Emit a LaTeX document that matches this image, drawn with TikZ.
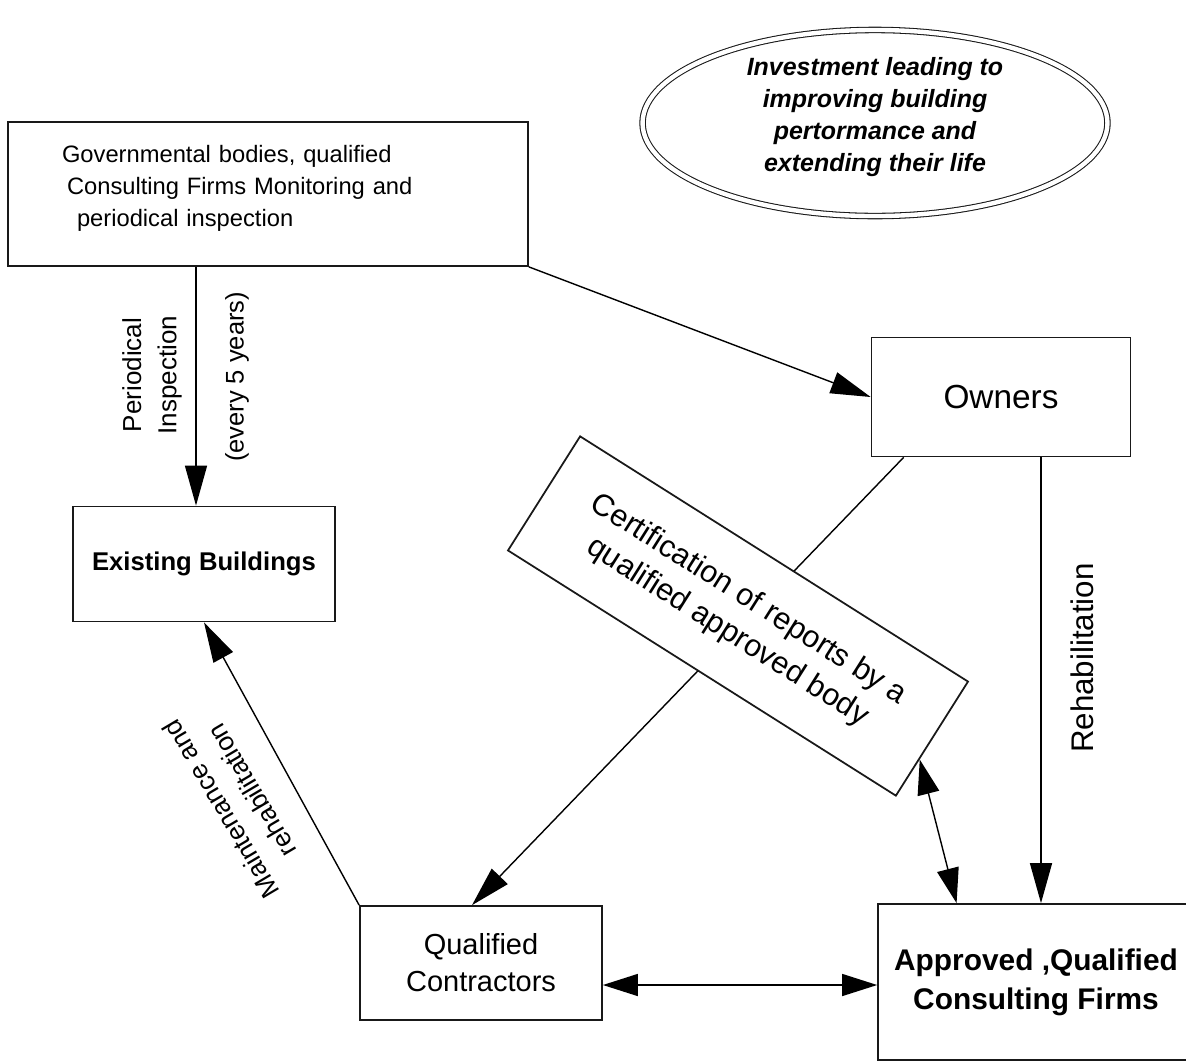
\documentclass[tikz,border=0pt]{standalone}
\usepackage{fontspec}
\setmainfont{Liberation Sans}
\usetikzlibrary{positioning, arrows.meta, shapes.geometric, calc, backgrounds}

\begin{document}
\begin{tikzpicture}[x=0.02cm, y=-0.02cm]
\tikzstyle{box}=[rectangle, draw=black!90, line width=1pt, fill=white, inner sep=0pt, align=center]
\tikzstyle{connect}=[-{Triangle[length=8mm, width=4.4mm]}, line width=0.8pt]
\tikzstyle{biconnect}=[{Triangle[length=7mm, width=4.4mm]}-{Triangle[length=7mm, width=4.4mm]}, line width=0.8pt]
\tikzstyle{lbl}=[align=center, inner sep=0pt]

\useasboundingbox (0,0) rectangle (1186,1062);

% 2. Nodes
%%%%%%%%%%
\node[box, minimum width=10.4cm, minimum height=2.88cm, text width=8.24cm, align=left, text depth=46pt,
      font=\fontsize{13.5}{18.2}\selectfont] (gov) at (268,194)
     {Governmental bodies, qualified\\ \hspace*{1mm}Consulting Firms Monitoring and\\ \hspace*{3mm}periodical inspection};
\node[ellipse, draw=black!90, double, double distance=2.5pt, line width=0.6pt, minimum width=9.3cm,
      minimum height=3.7cm, inner sep=0pt, align=center, text depth=10pt,
      font=\bfseries\itshape\fontsize{14.2}{18.2}\selectfont] (invest) at (875,123)
     {Investment leading to\\improving building\\pertormance and\\extending their life};
\node[box, minimum width=5.18cm, minimum height=2.38cm, font=\fontsize{19}{23}\selectfont] (owners) at (1001,397) {Owners};
\node[box, minimum width=5.24cm, minimum height=2.3cm, font=\bfseries\fontsize{14.6}{18}\selectfont] (existing) at (204,564) {Existing Buildings};
\node[box, minimum width=4.84cm, minimum height=2.28cm, font=\fontsize{16.5}{21}\selectfont] (contractors) at (481,963) {Qualified\\Contractors};
\node[box, minimum width=6.32cm, minimum height=3.12cm, font=\bfseries\fontsize{17}{22}\selectfont] (approved) at (1036,982) {Approved ,Qualified\\Consulting Firms};
\node[box, rotate=-32.3, minimum width=9.18cm, minimum height=2.7cm, font=\fontsize{17.5}{22}\selectfont] (cert) at (738,616)
     {Certification of reports by a\\qualified approved body};

\node[lbl, rotate=90, font=\fontsize{14.8}{20}\selectfont] (periodical) at (152,375) {Periodical\\Inspection};
\node[lbl, rotate=90, font=\fontsize{14.5}{18}\selectfont] (every) at (237,377) {(every 5 years)};
\node[lbl, rotate=90, font=\fontsize{17.8}{22}\selectfont] (rehab) at (1082,658) {Rehabilitation};
\node[lbl, rotate=120.6, font=\fontsize{15}{20.5}\selectfont] (maint) at (236,800) {Maintenance and\\rehabilitation};

% 3. Arrows
%%%%%%%%%%%
\draw[connect] ([xshift=-0.16cm]existing.north |- gov.south) -- ([xshift=-0.16cm]existing.north);
\draw[connect] (gov.south east) -- (owners.west);
\draw[connect] ([xshift=0.8cm]owners.south) -- ([xshift=0.8cm]owners.south |- approved.north);
\draw[biconnect] (cert.-6) -- ($(approved.north west)!0.25!(approved.north east)$);
\draw[biconnect] ([yshift=-0.44cm]contractors.east) -- ([yshift=-0.44cm]contractors.east -| approved.west);
\draw[connect] (contractors.north west) -- (existing.south);
\begin{scope}[on background layer]
\draw[connect] ([xshift=0.66cm]owners.south west) -- ([xshift=-0.18cm]contractors.north);
\end{scope}

\end{tikzpicture}
\end{document}
